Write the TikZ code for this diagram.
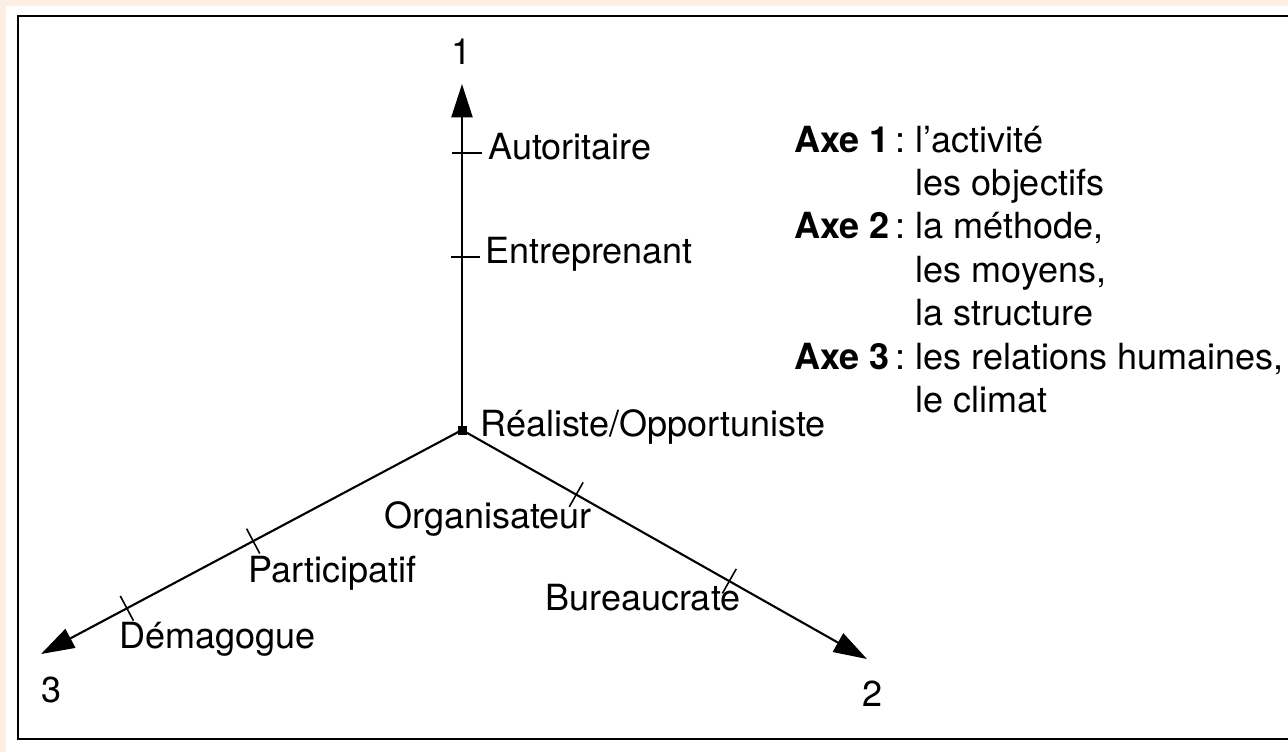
\documentclass[tikz,border=0pt]{standalone}
\usepackage{fontspec}
\setmainfont{TeX Gyre Heros}
\usetikzlibrary{arrows.meta,calc}
\definecolor{pagetint}{RGB}{253,238,228}
\begin{document}
\begin{tikzpicture}[x=0.02cm,y=-0.02cm,
  axis/.style={line width=1.2pt,-{Triangle[length=19pt,width=12pt]}},
  tickmark/.style={line width=0.9pt},
  lbl/.style={inner sep=0pt,anchor=base west,font=\fontsize{20.5}{24.75}\selectfont},
  axisnum/.style={inner sep=0pt,anchor=base,font=\fontsize{20.5}{24.75}\selectfont}]
\useasboundingbox (0,0) rectangle (1288,752);
% page and frame
\fill[pagetint] (0,0) rectangle (1288,752);
\fill[white] (6,6) rectangle (1288,752);
\draw[line width=1.6pt] (1300,16) -- (18,16) -- (18,739) -- (1300,739);

% the three axes
\coordinate (o) at (462,430);
\coordinate (t1) at (462,84);
\coordinate (t2) at (867,659);
\coordinate (t3) at (41,654);
\draw[axis] (o) -- (t1);
\draw[axis] (o) -- (t2);
\draw[axis] (o) -- (t3);
\fill (457.5,425.5) rectangle (466.5,434.5);

% graduations
\coordinate (a1) at ($(o)!0.80!(t1)$);
\coordinate (a2) at ($(o)!0.50!(t1)$);
\draw[tickmark] ($(a1)+(-10,0)$) -- ($(a1)+(20,0)$);
\draw[tickmark] ($(a2)+(-11,0)$) -- ($(a2)+(18,0)$);
\coordinate (b1) at ($(o)!0.282!(t2)$);
\coordinate (b2) at ($(o)!0.660!(t2)$);
\coordinate (c1) at ($(o)!0.496!(t3)$);
\coordinate (c2) at ($(o)!0.796!(t3)$);
\foreach \p/\t in {b1/t2,b2/t2,c1/t3,c2/t3}
  \draw[tickmark] ($(\p)!8pt!90:(\t)$) -- ($(\p)!-8pt!90:(\t)$);

% axis numbers
\node[axisnum] (n1) at (462,64) {1};
\node[axisnum] (n2) at (873,706) {2};
\node[axisnum] (n3) at (52,702) {3};

% styles of leadership
\node[lbl] (aut) at (488,159) {Autoritaire};
\node[lbl] (ent) at (485,263) {Entreprenant};
\node[lbl] (rea) at (480,436) {Réaliste/Opportuniste};
\node[lbl] (org) at (384,528) {Organisateur};
\node[lbl] (par) at (248,582) {Participatif};
\node[lbl] (bur) at (545,610) {Bureaucrate};
\node[lbl] (dem) at (119,648) {Démagogue};

% legend
\node[lbl] (legend) at (794,152) {%
  \begin{tabular}[t]{@{}l@{\ }l@{}}
    \textbf{Axe 1}\,: & l'activité\\
                     & les objectifs\\
    \textbf{Axe 2}\,: & la méthode,\\
                     & les moyens,\\
                     & la structure\\
    \textbf{Axe 3}\,: & les relations humaines,\\
                     & le climat
  \end{tabular}};
\end{tikzpicture}
\end{document}
